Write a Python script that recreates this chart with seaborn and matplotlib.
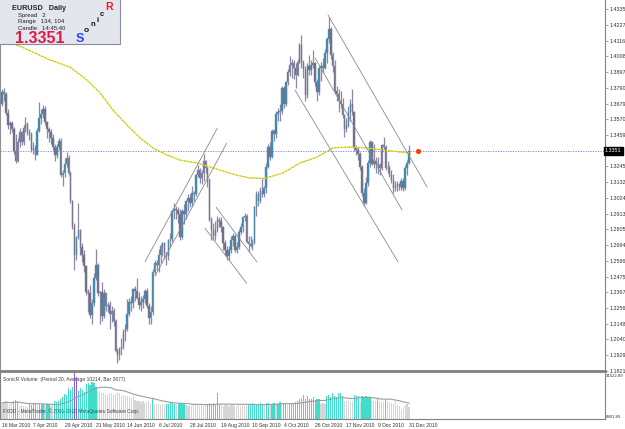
import numpy as np
import pandas as pd
import matplotlib
matplotlib.use("Agg")
import matplotlib.pyplot as plt
from matplotlib.patches import Rectangle
import seaborn as sns

# EURUSD daily, 16 Mar 2010 .. 31 Dec 2010, prices in pips (x 1e-4)
opens = [13680, 13760, 13745, 13615, 13530, 13545, 13500, 13350, 13280, 13410,
         13480, 13410, 13510, 13540, 13480, 13470, 13360, 13370, 13325, 13490,
         13580, 13610, 13640, 13550, 13500, 13480, 13440, 13380, 13320, 13380,
         13420, 13180, 13200, 13260, 13300, 13200, 13000, 12830, 12630, 12750,
         12800, 12680, 12630, 12550, 12370, 12360, 12210, 12290, 12470, 12560,
         12360, 12370, 12200, 12360, 12270, 12280, 12220, 12240, 12170, 11960,
         11930, 11970, 11985, 12090, 12110, 12220, 12300, 12290, 12390, 12380,
         12330, 12280, 12300, 12320, 12380, 12270, 12190, 12230, 12510, 12570,
         12560, 12630, 12690, 12710, 12640, 12620, 12730, 12740, 12930, 12950,
         12940, 12910, 12750, 12930, 12910, 13000, 13020, 12990, 13060, 13050,
         13180, 13220, 13160, 13200, 13280, 13230, 13150, 12870, 12800, 12760,
         12810, 12870, 12860, 12820, 12710, 12660, 12620, 12660, 12730, 12760,
         12660, 12680, 12790, 12820, 12890, 12900, 12720, 12700, 12690, 12710,
         12960, 13050, 13000, 13070, 13050, 13090, 13240, 13380, 13310, 13490,
         13470, 13610, 13620, 13630, 13790, 13680, 13830, 13900, 13950, 13960,
         13930, 13880, 13970, 14090, 13960, 13920, 13740, 13940, 13910, 13950,
         13960, 13830, 13760, 13930, 13940, 13930, 14030, 14130, 14200, 14020,
         13940, 13770, 13750, 13700, 13680, 13600, 13500, 13530, 13620, 13680,
         13620, 13370, 13360, 13330, 13240, 13060, 12990, 13130, 13270, 13410,
         13260, 13280, 13260, 13250, 13230, 13390, 13380, 13230, 13235, 13180,
         13150, 13090, 13110, 13120, 13100, 13140, 13090, 13230, 13270]
highs = [13780, 13790, 13760, 13640, 13560, 13560, 13515, 13470, 13440, 13510,
         13490, 13530, 13590, 13550, 13500, 13480, 13410, 13390, 13510, 13690,
         13640, 13670, 13660, 13560, 13520, 13500, 13470, 13400, 13400, 13440,
         13440, 13220, 13300, 13340, 13320, 13210, 13010, 12850, 12760, 12990,
         12810, 12710, 12660, 12560, 12390, 12420, 12320, 12500, 12670, 12570,
         12380, 12440, 12390, 12370, 12300, 12310, 12270, 12260, 12180, 11980,
         11990, 12050, 12110, 12150, 12320, 12330, 12340, 12400, 12410, 12470,
         12370, 12340, 12350, 12390, 12400, 12290, 12270, 12530, 12590, 12590,
         12670, 12700, 12720, 12720, 12650, 12740, 12780, 12940, 12990, 12970,
         12960, 12950, 12950, 12980, 13010, 13050, 13050, 13110, 13070, 13190,
         13250, 13230, 13220, 13330, 13290, 13240, 13160, 12890, 12850, 12860,
         12900, 12890, 12890, 12830, 12730, 12690, 12690, 12760, 12780, 12770,
         12720, 12810, 12850, 12900, 12920, 12910, 12760, 12760, 12740, 12970,
         13070, 13070, 13100, 13160, 13110, 13270, 13400, 13410, 13500, 13500,
         13630, 13650, 13680, 13800, 13800, 13840, 13920, 14010, 13990, 13980,
         13960, 13990, 14100, 14160, 13980, 13940, 13960, 14020, 13980, 14050,
         13970, 13850, 13940, 13970, 14000, 14060, 14140, 14282, 14210, 14040,
         13980, 13800, 13780, 13770, 13720, 13610, 13580, 13660, 13710, 13780,
         13630, 13390, 13380, 13340, 13250, 13090, 13170, 13290, 13430, 13420,
         13400, 13310, 13310, 13270, 13400, 13450, 13390, 13280, 13250, 13220,
         13190, 13140, 13140, 13130, 13160, 13160, 13250, 13290, 13390]
lows = [13660, 13700, 13600, 13500, 13470, 13480, 13330, 13265, 13275, 13380,
        13390, 13390, 13480, 13460, 13430, 13340, 13330, 13290, 13320, 13480,
        13540, 13580, 13530, 13440, 13410, 13400, 13360, 13280, 13300, 13360,
        13170, 13110, 13170, 13240, 13180, 12990, 12810, 12520, 12590, 12740,
        12630, 12580, 12510, 12350, 12230, 12190, 12145, 12270, 12450, 12340,
        12150, 12170, 12190, 12240, 12230, 12110, 12160, 12130, 11950, 11876,
        11900, 11930, 11970, 12030, 12100, 12200, 12240, 12260, 12310, 12320,
        12250, 12240, 12260, 12290, 12260, 12150, 12150, 12210, 12490, 12520,
        12510, 12570, 12620, 12600, 12560, 12590, 12680, 12720, 12880, 12880,
        12850, 12730, 12740, 12840, 12880, 12930, 12960, 12970, 13000, 13040,
        13170, 13130, 13120, 13140, 13200, 13100, 12860, 12730, 12730, 12730,
        12790, 12820, 12790, 12660, 12630, 12590, 12590, 12640, 12690, 12650,
        12640, 12670, 12770, 12790, 12860, 12710, 12650, 12680, 12660, 12700,
        12900, 12970, 12990, 13030, 13030, 13060, 13230, 13290, 13300, 13420,
        13440, 13560, 13560, 13610, 13650, 13660, 13810, 13870, 13860, 13850,
        13790, 13870, 13960, 13930, 13860, 13700, 13720, 13880, 13880, 13930,
        13800, 13700, 13740, 13840, 13890, 13920, 13960, 14100, 13990, 13900,
        13750, 13700, 13620, 13650, 13580, 13450, 13480, 13520, 13560, 13600,
        13350, 13320, 13290, 13220, 13040, 12969, 12985, 13110, 13240, 13250,
        13230, 13200, 13190, 13180, 13220, 13360, 13220, 13200, 13170, 13130,
        13060, 13070, 13070, 13080, 13080, 13070, 13080, 13180, 13260]
closes = [13760, 13745, 13615, 13530, 13545, 13500, 13350, 13280, 13410, 13480,
          13410, 13510, 13540, 13480, 13470, 13360, 13370, 13325, 13490, 13580,
          13610, 13640, 13550, 13500, 13480, 13440, 13380, 13320, 13380, 13420,
          13180, 13200, 13260, 13300, 13200, 13000, 12830, 12630, 12750, 12800,
          12680, 12630, 12550, 12370, 12360, 12210, 12290, 12470, 12560, 12360,
          12370, 12200, 12360, 12270, 12280, 12220, 12240, 12170, 11960, 11930,
          11970, 11985, 12090, 12110, 12220, 12300, 12290, 12390, 12380, 12330,
          12280, 12300, 12320, 12380, 12270, 12190, 12230, 12510, 12570, 12560,
          12630, 12690, 12710, 12640, 12620, 12730, 12740, 12930, 12950, 12940,
          12910, 12750, 12930, 12910, 13000, 13020, 12990, 13060, 13050, 13180,
          13220, 13160, 13200, 13280, 13230, 13150, 12870, 12800, 12760, 12810,
          12870, 12860, 12820, 12710, 12660, 12620, 12660, 12730, 12760, 12660,
          12680, 12790, 12820, 12890, 12900, 12720, 12700, 12690, 12710, 12960,
          13050, 13000, 13070, 13050, 13090, 13240, 13380, 13310, 13490, 13470,
          13610, 13620, 13630, 13790, 13680, 13830, 13900, 13950, 13960, 13930,
          13880, 13970, 14090, 13960, 13920, 13740, 13940, 13910, 13950, 13960,
          13830, 13760, 13930, 13940, 13930, 14030, 14130, 14200, 14020, 13940,
          13770, 13750, 13700, 13680, 13600, 13500, 13530, 13620, 13680, 13620,
          13370, 13360, 13330, 13240, 13060, 12990, 13130, 13270, 13410, 13260,
          13280, 13260, 13250, 13230, 13390, 13380, 13230, 13235, 13180, 13150,
          13090, 13110, 13120, 13100, 13140, 13090, 13230, 13270, 13351]

# SonicR volume histogram
volume = [11000, 11500, 12000, 11000, 10500, 10800, 12500, 13000, 12000, 9000,
          9500, 8800, 9200, 8000, 10200, 9800, 10500, 10000, 9600, 10600,
          9900, 10400, 9500, 10100, 10300, 9000, 9400, 12000, 11500, 12500,
          13500, 15000, 17000, 16500, 21000, 20000, 22000, 31500, 29000, 19000,
          21000, 20000, 18500, 24000, 25000, 23500, 25500, 24500, 22000, 18500,
          19000, 17500, 18000, 17000, 16500, 18000, 17500, 16500, 17000, 18500,
          17500, 16000, 16500, 15500, 16000, 15000, 14500, 15500, 13000, 12500,
          12000, 11500, 12000, 11000, 11500, 12000, 11000, 14500, 10500, 10000,
          10500, 9500, 10200, 9800, 10500, 10200, 10800, 11000, 10400, 9500,
          10500, 10800, 10200, 10600, 9500, 9200, 9800, 9000, 9400, 9700,
          9300, 9100, 9600, 9000, 9400, 10200, 11000, 10500, 10800, 10300,
          17800, 10400, 9500, 9200, 9700, 9300, 9000, 9600, 9400, 8800,
          9100, 9500, 9200, 9300, 8900, 9400, 10500, 10200, 10800, 10400,
          10600, 10300, 10700, 10500, 9500, 10800, 11200, 9800, 10600, 11000,
          10200, 10500, 11400, 10000, 10900, 10400, 9600, 10600, 11200, 10800,
          11500, 12500, 13500, 14500, 16500, 13500, 15500, 14000, 13500, 14800,
          13000, 13800, 13500, 10500, 11000, 10200, 15500, 16500, 15000, 17500,
          16000, 15000, 17800, 17500, 16000, 12500, 12000, 12800, 11500, 12200,
          16500, 16000, 15500, 12000, 15500, 15000, 15800, 14800, 15200, 12500,
          12000, 12300, 14500, 12000, 11500, 11800, 13000, 12000, 11500, 11000,
          10500, 12000, 9500, 9000, 6000, 8500, 9500, 10000, 8000]
# bar colour class: c = above average (cyan), g = below (grey), p = spike
vol_kind = list("gggggg" "ccc" "ggggg" "ccccgcccgcc" "gg" "cccc" "ccc" "ccc"
                "pp" "cccc" "cccccc"
                "ggggg" "ggggg" "ggggg" "gggg"
                "ggggg" "gggg"
                "c" "gggggg" "ccccc" "g" "cccc"
                "ggggg" "gggggg"
                "ccccccc"
                "ggggg" "ggggg" "gggg"
                "cccccccc" "g" "ccgccgccgcc" "g" "cccccc"
                "ccccc" "ccccc"
                "ggg" "ccccccccc" "ggggg" "ccc" "g" "ccccc" "ggg" "c" "ggg" "c"
                "gggggg" "gggggg")

# slow moving average drawn on the price pane (bar, price)
ma_bar = [0, 10.2, 24.5, 34.7, 43.4, 50.1, 56.7, 63.9, 70.5, 77.2, 84.3, 91.0,
          99.6, 111.4, 119.7, 126.7, 134.4, 143.6, 152.3, 161.0, 169.1, 177.8,
          186.5, 194.7, 203.4, 208.5]
ma_val = [1.4125, 1.4073, 1.3983, 1.3934, 1.3844, 1.3754, 1.3635, 1.3531,
          1.3441, 1.3371, 1.3322, 1.3287, 1.3267, 1.3218, 1.3183, 1.3162,
          1.3160, 1.3197, 1.3267, 1.3308, 1.3371, 1.3378, 1.3371, 1.3357,
          1.3343, 1.3336]

# hand drawn trend lines (bar, price) -> (bar, price)
trend_x1 = [73.1, 78.2, 103.7, 109.4, 166.6, 160.0, 149.7]
trend_p1 = [1.2580, 1.2481, 1.2813, 1.2959, 1.4296, 1.3997, 1.3774]
trend_x2 = [110.0, 114.8, 125.0, 130.2, 217.2, 204.4, 202.4]
trend_p2 = [1.3508, 1.3404, 1.2430, 1.2580, 1.3100, 1.2940, 1.2578]

price_ticks = [1.4335, 1.4227, 1.4116, 1.4008, 1.3897, 1.3790, 1.3679, 1.3570,
               1.3459, 1.3245, 1.3132, 1.3024, 1.2913, 1.2805, 1.2694, 1.2586,
               1.2475, 1.2367, 1.2256, 1.2148, 1.2040, 1.1929, 1.1821]
date_bars = [0, 16, 32, 48, 64, 80, 96, 112, 128, 144, 160, 176, 192, 208]
date_labels = ["16 Mar 2010", "7 Apr 2010", "29 Apr 2010", "21 May 2010",
               "14 Jun 2010", "6 Jul 2010", "28 Jul 2010", "19 Aug 2010",
               "10 Sep 2010", "4 Oct 2010", "26 Oct 2010", "17 Nov 2010",
               "9 Dec 2010", "31 Dec 2010"]
signal_bar = 212.6

sns.set_style("white")
plt.rcParams['font.family'] = ['Liberation Sans', 'DejaVu Sans']

df = pd.DataFrame({"bar": np.arange(len(closes)),
                   "open": np.array(opens) / 1e4, "high": np.array(highs) / 1e4,
                   "low": np.array(lows) / 1e4, "close": np.array(closes) / 1e4,
                   "volume": volume, "kind": vol_kind})
df["avg"] = df["volume"].rolling(20, min_periods=1).mean()
last = df["close"].iloc[-1]

W, H = 625, 429
fig = plt.figure(figsize=(W / 100, H / 100), dpi=100)
fig.patch.set_facecolor("white")
ax = fig.add_axes([0, (H - 371) / H, 605 / W, 371 / H])
axv = fig.add_axes([0, (H - 419) / H, 605 / W, 46 / H])

xl = (-2 / 1.957, 603 / 1.957)
ax.set_xlim(*xl)
ax.set_ylim(1.4282 - 354 / 1438, 1.4282 + 17 / 1438)

# candles
bull = df["close"] >= df["open"]
ax.vlines(df["bar"], df["low"], df["high"], color="#8a8aa6", lw=0.9, zorder=2)
body_lo = np.minimum(df["open"], df["close"])
body_h = np.maximum((df["close"] - df["open"]).abs(), 0.0003)
ax.bar(df["bar"], body_h, bottom=body_lo, width=0.78,
       color=np.where(bull, "#2f8fb8", "#6e6e82"), edgecolor="#80809a",
       linewidth=0.3, zorder=3)

# moving average: olive base with yellow dashes on top
sns.lineplot(x=ma_bar, y=ma_val, ax=ax, color="#a8a800", lw=0.7, zorder=4)
ax.plot(ma_bar, ma_val, color="#ffff2a", lw=0.7, ls=(0, (2, 1.5)), zorder=4)

for x1, p1, x2, p2 in zip(trend_x1, trend_p1, trend_x2, trend_p2):
    ax.plot([x1, x2], [p1, p2], color="#8a8a8a", lw=0.6, zorder=5)

ax.axhline(last, color="#5a5ad0", lw=0.6, ls=(0, (1.5, 1.5)), alpha=0.8,
           zorder=1)
ax.scatter([signal_bar], [last], s=14, color="#ff3a10", zorder=6, lw=0)

ax.yaxis.tick_right()
ax.set_yticks(price_ticks)
ax.set_yticklabels([f"{t:.4f}" for t in price_ticks])
ax.tick_params(axis="y", labelsize=3.9, pad=1.2, length=2, width=0.5,
               color="#808080", labelcolor="#303030")
ax.set_xticks([])
ax.text(1.0, last, f"{last:.4f}", transform=ax.get_yaxis_transform(),
        ha="left", va="center", fontsize=3.9, color="white", clip_on=False,
        bbox=dict(boxstyle="square,pad=0.25", fc="black", ec="black"))

ax.spines["top"].set_visible(False)
ax.spines["left"].set_color("#909090")
ax.spines["right"].set_color("#808080")
ax.spines["right"].set_linewidth(0.8)
ax.spines["bottom"].set_color("#808080")
ax.spines["bottom"].set_linewidth(2.0)

# volume pane
pal = {"c": "#40dccc", "g": "#d6d6d6", "p": "#8e5ee6"}
axv.bar(df["bar"], df["volume"], width=0.62, linewidth=0,
        color=[pal[k] for k in df["kind"]], antialiased=False, zorder=2)
sns.lineplot(data=df, x="bar", y="avg", ax=axv, color="#9c9c9c", lw=0.8,
             zorder=3)
axv.set_xlim(*xl)
axv.set_ylim(0, 31522.89)
axv.set_xlabel("")
axv.set_ylabel("")
axv.set_xticks(date_bars)
axv.set_xticklabels(date_labels, ha="left")
axv.tick_params(axis="x", labelsize=3.6, pad=0.8, length=2, width=0.5,
                color="#808080", labelcolor="#303030")
axv.yaxis.tick_right()
axv.set_yticks([])
axv.spines["top"].set_visible(False)
for s in ["left", "right", "bottom"]:
    axv.spines[s].set_color("#808080")
    axv.spines[s].set_linewidth(0.8)
axv.text(1.002, 0.97, "31522.89", transform=axv.transAxes, ha="left", va="top",
         fontsize=3.1, color="#303030", clip_on=False)
axv.text(1.002, 0.0, "6801.89", transform=axv.transAxes, ha="left",
         va="bottom", fontsize=3.1, color="#303030", clip_on=False)
axv.text(0.005, 0.86, "SonicR Volume  (Period 20, Average 10214, Bar 2677)",
         transform=axv.transAxes, fontsize=3.6, color="#404040", va="center")
axv.text(0.005, 0.16, "FXDD - MetaTrader, \u00a9 2001-2010 MetaQuotes Software Corp.",
         transform=axv.transAxes, fontsize=3.5, color="#404040", va="center",
         zorder=5)

# info panel in the upper left corner
ov = fig.add_axes([0, 0, 1, 1], zorder=10)
ov.set_xlim(0, W)
ov.set_ylim(H, 0)
ov.axis("off")
ov.patch.set_alpha(0)
ov.add_patch(Rectangle((0, 0), 120, 44, fc="#e4e6ee", ec="none"))
ov.plot([120, 120, 0], [0, 44, 44], color="#8c8c9c", lw=0.8)
ov.text(12, 8, "EURUSD   Daily", fontsize=5.2, fontweight="bold", va="center")
ov.text(18, 15, "Spread   2", fontsize=4.3, va="center", color="#202020")
ov.text(18, 21.5, "Range   134, 104", fontsize=4.3, va="center", color="#202020")
ov.text(18, 28, "Candle   14:45:40", fontsize=4.3, va="center", color="#202020")
ov.text(15, 38.5, f"{last:.4f}", fontsize=11.5, fontweight="bold",
        va="center", color="#e01848")
for ch, x, y, fs, col in [("S", 80, 38.5, 9, "#2848e8"), ("o", 86.5, 31, 6, "#101010"),
                          ("n", 92.5, 25, 5.5, "#101010"), ("i", 97.5, 20, 5.5, "#101010"),
                          ("c", 102, 14, 5.5, "#101010"), ("R", 109, 7, 7.5, "#f01818")]:
    ov.text(x, y, ch, fontsize=fs, fontweight="bold", ha="center", va="center",
            color=col)

fig.savefig("out.png", dpi=100)
